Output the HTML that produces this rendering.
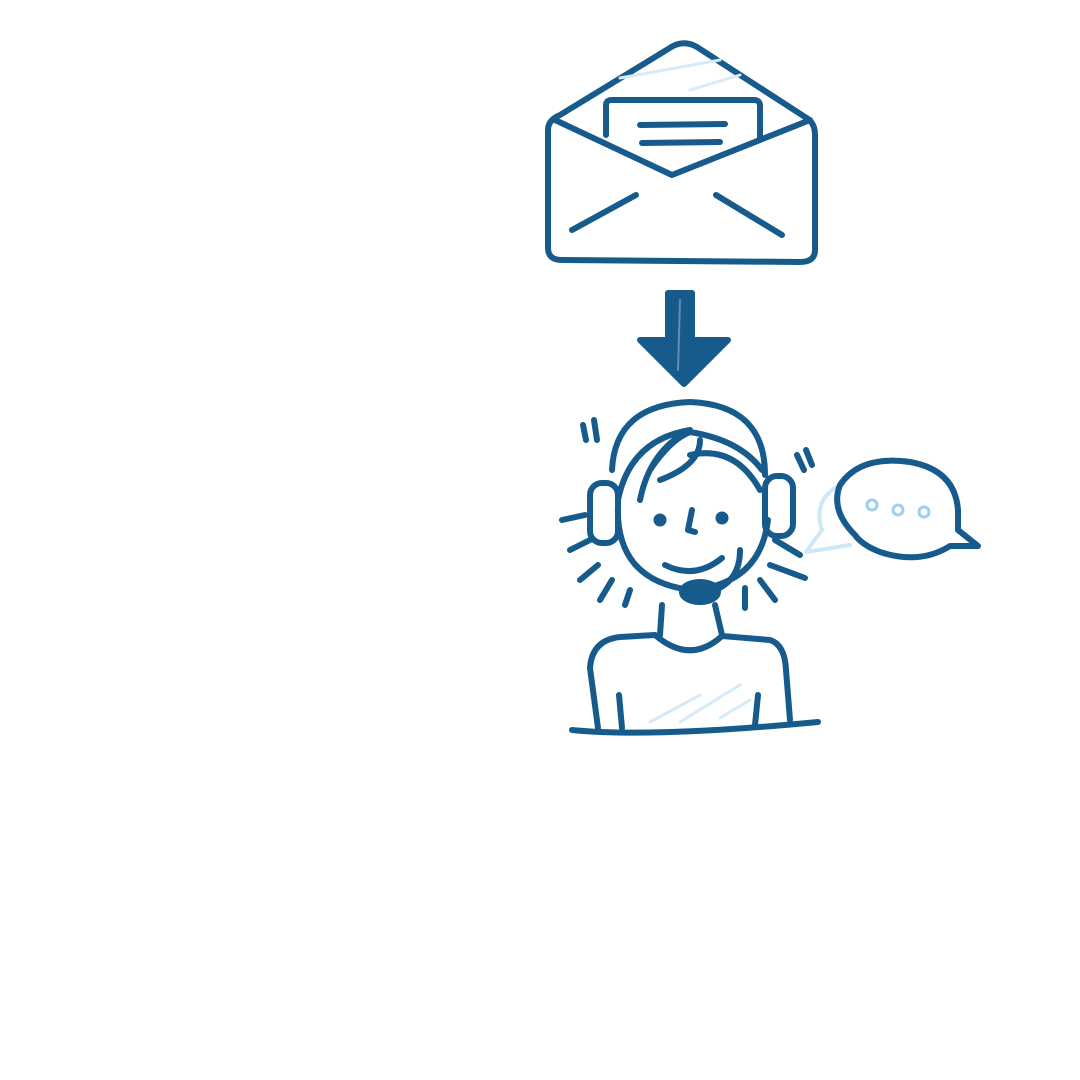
<!DOCTYPE html>
<html><head><meta charset="utf-8"><style>html,body{margin:0;padding:0;background:#fff}svg{display:block}</style></head>
<body>
<svg width="1080" height="1080" viewBox="0 0 1080 1080" xmlns="http://www.w3.org/2000/svg">
<g fill="none" stroke="#175a8c" stroke-width="6" stroke-linecap="round" stroke-linejoin="round">
<!-- envelope -->
<path d="M560 115 L673 46 Q685 40 697 47 L805 117 Q815 122 815 135 L815 250 Q815 262 800 262 L562 260 Q548 260 548 248 L548 130 Q548 120 560 115 Z"/>
<path d="M606 135 L606 105 Q606 100 612 100 L754 100 Q760 100 760 106 L760 138"/>
<path d="M555 120 L672 175 L810 120"/>
<path d="M640 125 L725 124 M642 143 L720 142"/>
<path d="M572 230 L636 195 M716 195 L782 235"/>
<path d="M620 78 L720 60 M740 75 L690 90" stroke="#d6ebf7" stroke-width="3"/>
<!-- head -->
<path d="M612 470 Q615 405 690 402 Q765 405 765 475"/>
<path d="M618 505 Q615 580 690 590 Q760 585 768 520"/>
<path d="M618 500 Q630 440 690 430 Q650 450 640 500 M650 470 Q670 440 690 432 Q740 440 762 470 M700 440 Q700 465 660 480 M690 455 Q735 445 760 490"/>
<rect x="590" y="483" width="28" height="60" rx="12"/>
<rect x="765" y="476" width="28" height="60" rx="12"/>
<circle cx="660" cy="520" r="3.5" fill="#175a8c"/>
<circle cx="722" cy="518" r="3.5" fill="#175a8c"/>
<path d="M692 510 L688 530 L695 532"/>
<path d="M665 565 Q695 580 722 558"/>
<path d="M740 550 Q740 580 715 590"/>
<ellipse cx="700" cy="592" rx="18" ry="10" fill="#175a8c"/>
<path d="M585 515 L562 520 M590 540 L570 550 M598 565 L580 580 M612 580 L600 600 M630 590 L625 605 M775 540 L800 555 M770 565 L805 578 M760 580 L775 600 M745 588 L745 608"/>
<path d="M583 425 L586 440 M594 420 L597 440 M797 455 L804 470 M806 450 L812 465"/>
<!-- body -->
<path d="M662 605 L660 635 M715 605 L722 635"/>
<path d="M598 728 L590 668 Q592 640 620 637 L655 635 Q690 665 722 636 L770 640 Q785 645 786 670 L790 720"/>
<path d="M619 695 L622 728 M758 695 L755 725"/>
<path d="M572 730 Q650 738 818 722"/>
<path d="M650 722 L700 695 M680 722 L740 685 M720 718 L750 700" stroke="#d6ebf7" stroke-width="3"/>
<!-- arrow -->
<path d="M668 293 L692 293 L692 340 L728 340 L684 384 L640 340 L668 340 Z" fill="#175a8c"/>
<path d="M680 300 L678 370" stroke="#5f8fb5" stroke-width="2"/>
<!-- speech bubbles -->
<path d="M840 485 Q812 500 822 530 L806 552 L850 545" stroke="#cfe8f7" stroke-width="4"/>
<path d="M855 535 Q830 510 840 485 Q860 455 910 462 Q955 470 958 510 L958 530 L978 546 L950 546 Q920 565 880 552 Q862 545 855 535 Z"/>
<circle cx="872" cy="505" r="5" stroke="#9fcfee" stroke-width="3"/>
<circle cx="898" cy="510" r="5" stroke="#9fcfee" stroke-width="3"/>
<circle cx="924" cy="512" r="5" stroke="#9fcfee" stroke-width="3"/>
</g>
</svg>
</body></html>
